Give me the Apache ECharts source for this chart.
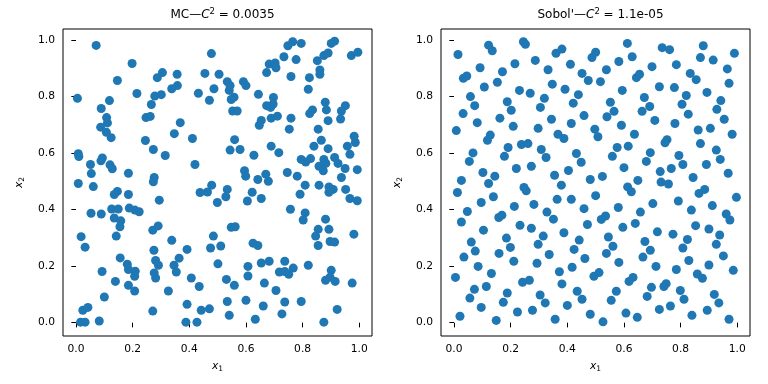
<!DOCTYPE html>
<html><head><meta charset="utf-8">
<script src="https://cdn.jsdelivr.net/npm/echarts@6/dist/echarts.min.js"></script>
<style>html,body{margin:0;padding:0;background:#fff}#c{width:768px;height:384px}</style>
</head><body><div id="c"></div>
<script>
// Monte Carlo sample points [x1, x2]
const mcPoints = [
[0.071,0.980],[0.005,0.793],[0.198,0.916],[0.146,0.856],[0.118,0.785],[0.089,0.757],[0.108,0.725],[0.111,0.706],[0.087,0.691],[0.107,0.673],
[0.215,0.810],[0.266,0.771],[0.278,0.801],[0.301,0.806],[0.287,0.866],[0.305,0.884],[0.357,0.878],[0.338,0.827],[0.358,0.838],[0.247,0.725],
[0.262,0.729],[0.368,0.707],[0.347,0.668],[0.478,0.951],[0.455,0.881],[0.432,0.811],[0.471,0.786],[0.487,0.827],
[0.505,0.878],[0.534,0.852],[0.544,0.838],[0.541,0.821],[0.558,0.797],[0.548,0.789],[0.553,0.748],[0.569,0.748],[0.591,0.852],[0.600,0.838],
[0.644,0.807],[0.673,0.767],[0.687,0.761],[0.697,0.796],[0.696,0.773],[0.711,0.730],[0.689,0.723],[0.654,0.715],[0.647,0.698],[0.759,0.723],
[0.753,0.684],[0.673,0.884],[0.682,0.914],[0.703,0.918],[0.706,0.901],[0.734,0.940],[0.748,0.979],[0.765,0.993],[0.795,0.987],[0.777,0.930],
[0.759,0.870],[0.824,0.866],[0.820,0.825],[0.852,0.926],[0.861,0.893],[0.861,0.878],[0.875,0.944],[0.890,0.953],[0.901,0.987],[0.913,0.995],
[0.972,0.944],[0.995,0.956],[0.880,0.779],[0.884,0.752],[0.835,0.752],[0.825,0.739],[0.951,0.767],[0.937,0.748],[0.934,0.720],[0.890,0.714],
[0.855,0.684],
[0.124,0.654],[0.245,0.644],[0.273,0.612],[0.315,0.591],[0.411,0.651],[0.420,0.559],[0.008,0.597],[0.010,0.587],[0.051,0.559],[0.054,0.527],
[0.008,0.492],[0.061,0.481],[0.093,0.582],[0.088,0.572],[0.120,0.558],[0.128,0.544],[0.185,0.528],[0.276,0.513],[0.273,0.498],[0.146,0.464],
[0.135,0.453],[0.185,0.453],[0.294,0.433],[0.126,0.402],[0.149,0.402],[0.188,0.405],[0.208,0.398],[0.223,0.392],[0.053,0.387],[0.089,0.384],
[0.135,0.370],[0.158,0.360],[0.155,0.339],[0.271,0.327],[0.290,0.342],[0.479,0.486],[0.464,0.462],[0.438,0.460],
[0.982,0.659],[0.986,0.637],[0.560,0.647],[0.544,0.610],[0.579,0.612],[0.628,0.592],[0.689,0.624],[0.716,0.601],[0.840,0.624],[0.866,0.645],
[0.890,0.615],[0.958,0.624],[0.967,0.595],[0.795,0.577],[0.811,0.568],[0.828,0.580],[0.875,0.577],[0.882,0.563],[0.858,0.553],[0.873,0.537],
[0.913,0.584],[0.925,0.563],[0.950,0.545],[0.993,0.541],[0.937,0.513],[0.595,0.537],[0.599,0.518],[0.642,0.506],[0.670,0.525],[0.679,0.500],
[0.746,0.531],[0.781,0.518],[0.809,0.486],[0.791,0.454],[0.858,0.486],[0.893,0.480],[0.908,0.471],[0.893,0.461],[0.952,0.471],[0.967,0.439],
[0.993,0.431],[0.534,0.471],[0.529,0.445],[0.499,0.425],[0.622,0.461],[0.605,0.430],[0.654,0.439],[0.757,0.401],[0.809,0.388],[0.802,0.363],
[0.881,0.366],[0.548,0.337],[0.562,0.339],[0.855,0.330],[0.893,0.330],[0.981,0.313],
[0.846,0.306],[0.897,0.287],[0.913,0.285],[0.855,0.273],[0.511,0.271],[0.625,0.281],[0.642,0.273],[0.501,0.208],[0.607,0.199],[0.654,0.211],
[0.682,0.217],[0.737,0.217],[0.718,0.179],[0.737,0.181],[0.751,0.171],[0.767,0.193],[0.820,0.203],[0.607,0.165],[0.531,0.153],[0.559,0.132],
[0.665,0.140],[0.706,0.114],[0.901,0.185],[0.881,0.150],[0.897,0.161],[0.915,0.146],[0.975,0.140],[0.534,0.075],[0.600,0.079],[0.661,0.059],
[0.737,0.073],[0.795,0.075],[0.541,0.026],[0.633,0.012],[0.727,0.031],[0.922,0.047],[0.875,0.002],
[0.018,0.304],[0.032,0.267],[0.142,0.306],[0.156,0.229],[0.092,0.181],[0.139,0.146],[0.100,0.091],[0.181,0.207],[0.185,0.188],[0.209,0.182],
[0.207,0.164],[0.185,0.132],[0.207,0.112],[0.275,0.256],[0.281,0.220],[0.291,0.203],[0.276,0.176],[0.281,0.158],[0.338,0.291],[0.364,0.228],
[0.346,0.203],[0.354,0.179],[0.326,0.112],[0.392,0.259],[0.407,0.158],[0.435,0.128],[0.485,0.306],[0.475,0.264],[0.392,0.065],[0.442,0.044],
[0.471,0.049],[0.271,0.041],[0.388,0.002],[0.427,0.002],[0.024,0.044],[0.042,0.054],[0.016,0.002],[0.032,0.002],[0.082,0.006]
];
// Sobol' sample points [x1, x2]
const sobolPoints = [
[0.014,0.948],[0.122,0.981],[0.135,0.961],[0.245,0.993],[0.252,0.984],[0.287,0.927],[0.360,0.952],[0.381,0.967],[0.500,0.956],[0.487,0.937],
[0.092,0.901],[0.033,0.864],[0.045,0.872],[0.171,0.887],[0.215,0.915],[0.332,0.894],[0.411,0.913],[0.452,0.881],[0.474,0.856],[0.107,0.833],
[0.153,0.850],[0.231,0.821],[0.269,0.811],[0.347,0.843],[0.392,0.825],[0.439,0.806],[0.058,0.799],[0.188,0.781],[0.319,0.793],[0.073,0.767],
[0.202,0.751],[0.305,0.761],[0.421,0.776],[0.032,0.739],[0.162,0.723],[0.344,0.719],[0.459,0.732],[0.082,0.707],[0.209,0.694],[0.297,0.687],
[0.414,0.704],[0.008,0.679],[0.497,0.684],
[0.612,0.987],[0.629,0.940],[0.582,0.923],[0.538,0.894],[0.517,0.852],[0.735,0.972],[0.761,0.965],[0.699,0.905],[0.785,0.912],[0.880,0.979],
[0.870,0.937],[0.915,0.928],[0.990,0.952],[0.965,0.897],[0.644,0.866],[0.655,0.878],[0.834,0.881],[0.855,0.859],[0.971,0.846],[0.594,0.821],
[0.725,0.834],[0.778,0.831],[0.893,0.814],[0.672,0.796],[0.820,0.803],[0.552,0.779],[0.942,0.785],[0.691,0.764],[0.664,0.747],[0.805,0.772],
[0.565,0.747],[0.540,0.728],[0.928,0.754],[0.827,0.737],[0.709,0.715],[0.954,0.719],[0.591,0.698],[0.780,0.704],[0.905,0.687],[0.862,0.681],
[0.128,0.663],[0.118,0.645],[0.367,0.666],[0.388,0.651],[0.191,0.619],[0.238,0.630],[0.261,0.633],[0.308,0.612],[0.325,0.584],[0.067,0.600],
[0.054,0.570],[0.178,0.588],[0.432,0.598],[0.449,0.567],[0.273,0.553],[0.220,0.545],[0.102,0.531],[0.144,0.518],[0.122,0.492],[0.026,0.503],
[0.012,0.460],[0.355,0.521],[0.404,0.538],[0.379,0.486],[0.247,0.478],[0.255,0.466],[0.139,0.445],[0.096,0.425],[0.213,0.411],[0.282,0.418],
[0.364,0.436],[0.414,0.436],[0.481,0.506],[0.500,0.449],[0.459,0.403],[0.047,0.393],[0.026,0.356],[0.158,0.372],[0.169,0.380],[0.328,0.391],
[0.351,0.366],[0.233,0.344],[0.273,0.334],[0.104,0.327],[0.471,0.347],[0.388,0.318],
[0.508,0.657],[0.637,0.666],[0.982,0.666],[0.752,0.647],[0.745,0.636],[0.870,0.633],[0.576,0.619],[0.615,0.624],[0.559,0.588],[0.693,0.601],
[0.679,0.570],[0.794,0.591],[0.808,0.559],[0.926,0.610],[0.940,0.577],[0.891,0.559],[0.600,0.548],[0.728,0.534],[0.767,0.545],[0.968,0.528],
[0.524,0.517],[0.649,0.503],[0.844,0.513],[0.731,0.497],[0.757,0.490],[0.613,0.480],[0.626,0.463],[0.885,0.471],[0.865,0.457],[0.997,0.443],
[0.792,0.430],[0.702,0.421],[0.912,0.414],[0.580,0.407],[0.838,0.398],[0.658,0.391],[0.961,0.384],[0.974,0.363],[0.535,0.377],[0.520,0.365],
[0.640,0.351],[0.596,0.337],[0.853,0.343],[0.900,0.331],[0.718,0.321],[0.773,0.313],[0.938,0.310],
[0.185,0.299],[0.315,0.306],[0.297,0.277],[0.199,0.266],[0.061,0.285],[0.075,0.253],[0.035,0.232],[0.159,0.245],[0.211,0.217],[0.336,0.241],
[0.293,0.210],[0.442,0.292],[0.424,0.259],[0.462,0.227],[0.085,0.199],[0.132,0.174],[0.005,0.160],[0.114,0.128],[0.072,0.118],[0.056,0.087],
[0.096,0.054],[0.021,0.023],[0.149,0.008],[0.188,0.105],[0.174,0.072],[0.224,0.038],[0.242,0.143],[0.266,0.150],[0.304,0.098],[0.322,0.070],
[0.277,0.044],[0.357,0.012],[0.372,0.180],[0.417,0.196],[0.381,0.137],[0.435,0.111],[0.452,0.083],[0.400,0.061],[0.481,0.030],[0.494,0.164],
[0.545,0.303],[0.561,0.270],[0.538,0.245],[0.582,0.213],[0.512,0.177],[0.674,0.287],[0.693,0.256],[0.667,0.232],[0.713,0.199],[0.824,0.294],
[0.808,0.264],[0.829,0.220],[0.926,0.277],[0.951,0.236],[0.785,0.188],[0.900,0.204],[0.986,0.185],[0.859,0.172],[0.877,0.157],[0.632,0.160],
[0.618,0.146],[0.573,0.111],[0.555,0.079],[0.697,0.125],[0.682,0.093],[0.741,0.128],[0.749,0.138],[0.799,0.114],[0.812,0.083],[0.919,0.100],
[0.935,0.070],[0.607,0.034],[0.647,0.019],[0.526,0.003],[0.725,0.047],[0.764,0.059],[0.840,0.026],[0.894,0.044],[0.971,0.012]
];
const tickValues = [0.0, 0.2, 0.4, 0.6, 0.8, 1.0];
const panelNames = ['MC', "Sobol'"];
const discrepancies = ['0.0035', '1.1e-05'];

const FONT = 'DejaVu Sans';
const gridLefts = [63, 441];
const GW = 309, GTOP = 29, GH = 307;

const richTitle = {
  n: {fontFamily: FONT, fontSize: 12, fontWeight: 'normal', color: '#000'},
  i: {fontFamily: FONT, fontSize: 12, fontWeight: 'normal', fontStyle: 'italic', color: '#000'},
  s: {fontFamily: FONT, fontSize: 8.5, fontWeight: 'normal', color: '#000', padding: [0, 0, 7, 0]}
};
const richAxis = {
  i: {fontFamily: FONT, fontSize: 10.7, fontStyle: 'italic', color: '#000'},
  sub: {fontFamily: FONT, fontSize: 7.5, color: '#000', padding: [6, 0, 0, 0]}
};

function axisCommon(gi, isX) {
  return {
    type: 'value', gridIndex: gi,
    min: isX ? -0.046 : -0.047, max: isX ? 1.045 : 1.038,
    axisLine: {show: false},
    splitLine: {show: false},
    axisTick: {show: true, length: 4.7, lineStyle: {color: '#000', width: 1}, customValues: tickValues},
    axisLabel: {customValues: tickValues, formatter: v => v.toFixed(1), margin: 8, color: '#000', fontSize: 10.7, fontFamily: FONT},
    name: isX ? '{i|x}{sub|1}' : '{i|x}{sub|2}',
    nameLocation: 'middle',
    nameGap: isX ? 23 : 37,
    nameTextStyle: {rich: richAxis}
  };
}

const chart = echarts.init(document.getElementById('c'), null, {renderer: 'canvas'});
chart.setOption({
  animation: false,
  backgroundColor: '#fff',
  title: panelNames.map((nm, k) => ({
    text: '{n|' + nm + '—}{i|C}{s|2}{n| = ' + discrepancies[k] + '}',
    left: gridLefts[k] + GW / 2, top: 2, textAlign: 'center',
    textStyle: {fontWeight: 'normal', fontSize: 12, rich: richTitle}
  })),
  grid: gridLefts.map(l => ({left: l, top: GTOP, width: GW, height: GH, show: true,
    borderColor: '#000', borderWidth: 1, backgroundColor: 'transparent', containLabel: false})),
  xAxis: [axisCommon(0, true), axisCommon(1, true)],
  yAxis: [axisCommon(0, false), axisCommon(1, false)],
  series: [mcPoints, sobolPoints].map((pts, k) => ({
    type: 'scatter', xAxisIndex: k, yAxisIndex: k, data: pts,
    symbolSize: 9, clip: false,
    itemStyle: {color: '#1f77b4', opacity: 1}
  }))
});
</script></body></html>
